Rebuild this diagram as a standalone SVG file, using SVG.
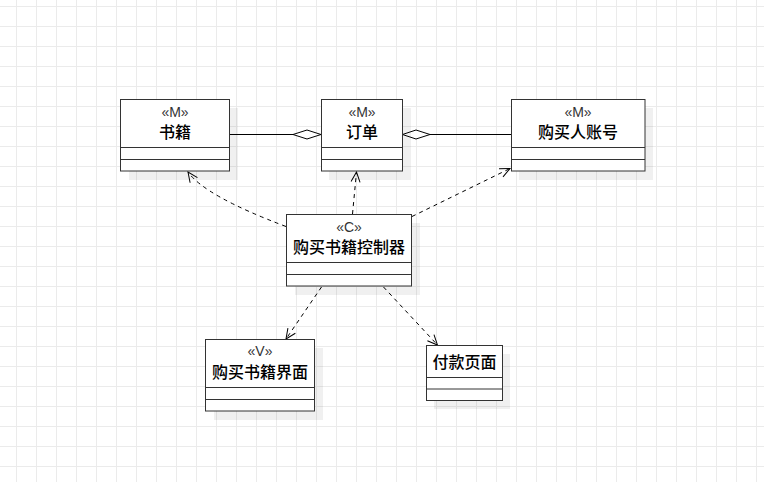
<svg xmlns="http://www.w3.org/2000/svg" width="764" height="482" viewBox="0 0 764 482">
  <style>
    .box { fill: #ffffff; stroke: #333333; stroke-width: 1; }
    .shadow { fill: #000000; fill-opacity: 0.06; }
    .div { stroke: #333333; stroke-width: 1; fill: none; }
    .stereo { font-family: "Liberation Sans", "Noto Sans CJK SC", sans-serif; font-size: 14px; fill: #333333; text-anchor: middle; }
    .name { font-family: "Noto Sans CJK SC", "Noto Sans", sans-serif; font-size: 16px; font-weight: 500; fill: #000000; text-anchor: middle; }
    .assoc { stroke: #000000; stroke-width: 1; fill: none; }
    .dep { stroke: #000000; stroke-width: 1; fill: none; stroke-dasharray: 4 4; }
    .diamond { fill: #ffffff; stroke: #000000; stroke-width: 1; }
  </style>
  <defs>
    <pattern id="grid" x="16" y="6" width="20" height="20" patternUnits="userSpaceOnUse">
      <path d="M0.5 0V20M0 0.5H20" stroke="#ebebeb" stroke-width="1" fill="none"/>
    </pattern>
    <marker id="open" viewBox="0 0 12 12" refX="11" refY="6" markerWidth="12" markerHeight="12" markerUnits="userSpaceOnUse" orient="auto">
      <path d="M1 1.5L11 6L1 10.5" fill="none" stroke="#000000" stroke-width="1"/>
    </marker>
  </defs>

  <rect width="764" height="482" fill="#ffffff"/>
  <rect width="764" height="482" fill="url(#grid)"/>

  <!-- connectors -->
  <g id="connectors">
    <!-- aggregations -->
    <path class="assoc" d="M229.5 134.5H293"/>
    <path class="diamond" d="M321 134.5L307 130L293 134.5L307 139Z"/>
    <path class="assoc" d="M430 134.5H511"/>
    <path class="diamond" d="M402.5 134.5L416 130L430 134.5L416 139Z"/>
    <!-- dependencies -->
    <path class="dep" d="M286 226.5Q205 196 188 172" marker-end="url(#open)"/>
    <path class="dep" d="M352.5 214L356.5 172" marker-end="url(#open)"/>
    <path class="dep" d="M412 216.5L510 168.5" marker-end="url(#open)"/>
    <path class="dep" d="M321.5 287L286 339" marker-end="url(#open)"/>
    <path class="dep" d="M383.5 287L437.5 345" marker-end="url(#open)"/>
  </g>

  <g id="book">
    <rect class="shadow" x="129" y="108" width="109" height="72"/>
    <rect class="box" x="120.5" y="99.5" width="109" height="71.5"/>
    <path class="div" d="M120.5 147.5H229.5M120.5 159.5H229.5"/>
    <text class="stereo" x="175" y="117">«M»</text>
    <text class="name" x="175" y="137.5">书籍</text>
  </g>

  <g id="order">
    <rect class="shadow" x="329" y="108" width="82" height="72"/>
    <rect class="box" x="321.5" y="99.5" width="81" height="71.5"/>
    <path class="div" d="M321.5 147.5H402.5M321.5 159.5H402.5"/>
    <text class="stereo" x="362" y="117">«M»</text>
    <text class="name" x="362" y="137.5">订单</text>
  </g>

  <g id="account">
    <rect class="shadow" x="519" y="108" width="134" height="72"/>
    <rect class="box" x="511.5" y="99.5" width="133.5" height="71.5"/>
    <path class="div" d="M511.5 147.5H645M511.5 159.5H645"/>
    <text class="stereo" x="578" y="117">«M»</text>
    <text class="name" x="578" y="137.5">购买人账号</text>
  </g>

  <g id="controller">
    <rect class="shadow" x="295" y="223" width="125" height="72"/>
    <rect class="box" x="286.5" y="214.5" width="125" height="71.5"/>
    <path class="div" d="M286.5 262.5H411.5M286.5 274.5H411.5"/>
    <text class="stereo" x="349" y="232">«C»</text>
    <text class="name" x="349" y="253">购买书籍控制器</text>
  </g>

  <g id="view">
    <rect class="shadow" x="214" y="348" width="109" height="72"/>
    <rect class="box" x="205.5" y="339.5" width="109" height="71.5"/>
    <path class="div" d="M205.5 387.5H314.5M205.5 399.5H314.5"/>
    <text class="stereo" x="260" y="356">«V»</text>
    <text class="name" x="260" y="378">购买书籍界面</text>
  </g>

  <g id="payment">
    <rect class="shadow" x="434" y="354" width="76" height="55"/>
    <rect class="box" x="426.5" y="345.5" width="76" height="55"/>
    <path class="div" d="M426.5 377.5H502.5M426.5 389H502.5"/>
    <text class="name" x="464.5" y="368">付款页面</text>
  </g>
</svg>
